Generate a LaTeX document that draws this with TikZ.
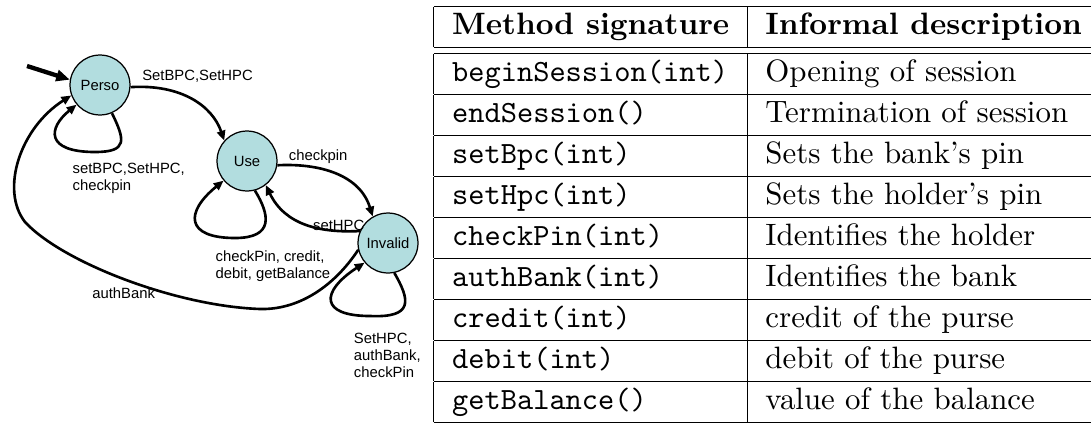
\documentclass[tikz,border=0pt]{standalone}
\usepackage{fontspec}
\newfontfamily\arialfont{Liberation Sans}
\usetikzlibrary{arrows.meta}
\definecolor{statefill}{RGB}{178,221,223}
\begin{document}
\begin{tikzpicture}[x=0.3236pt,y=-0.3236pt,
  state/.style={circle,draw=black,line width=0.4pt,fill=statefill,minimum size=19.4pt,inner sep=0pt,
    font=\arialfont\fontsize{4.8}{5.5}\selectfont},
  edge/.style={line width=0.85pt,-{Triangle[length=3.2pt,width=2.7pt]}},
  initedge/.style={line width=1.4pt,-{Triangle[length=4.4pt,width=3.6pt]}},
  lbl/.style={font=\arialfont\fontsize{4.8}{5.5}\selectfont,inner sep=0pt,align=left}]
\useasboundingbox (0,0) rectangle (1091,423);

% states
\node[state] (perso) at (100,85) {Perso};
\node[state] (use) at (247,161) {Use};
\node[state] (invalid) at (388,243) {Invalid};
\coordinate (start) at (27,66);

% transitions
\draw[initedge] (start) -- (perso.170);
\draw[edge] (perso.-4) .. controls (180,84) and (212,105) .. (use.138);
\draw[edge] (perso.-67) .. controls (125,140) and (128,152) .. (95,152)
            .. controls (45,152) and (48,128) .. (perso.-140);
\draw[edge] (use.-8) .. controls (320,163) and (360,175) .. (invalid.120);
\draw[edge] (invalid.157) .. controls (320,233) and (285,225) .. (use.-52);
\draw[edge] (use.-75) .. controls (270,215) and (274,238) .. (235,238)
            .. controls (185,238) and (185,212) .. (use.-140);
\draw[edge] (invalid.-167) .. controls (335,285) and (300,310) .. (260,309)
            .. controls (175,306) and (62,262) .. (25,222)
            .. controls (0,190) and (20,128) .. (perso.-160);
\draw[edge] (invalid.-78) .. controls (410,300) and (414,318) .. (370,316)
            .. controls (320,316) and (320,292) .. (invalid.-140);

% labels
\node[lbl,anchor=base west] (l1) at (141.7,80.5) {SetBPC,SetHPC};
\node[lbl,anchor=north west] (l2) at (72,162.2) {setBPC,SetHPC,\\checkpin};
\node[lbl,anchor=base west] (l3) at (288.3,160) {checkpin};
\node[lbl,anchor=base west] (l4) at (312.5,230) {setHPC};
\node[lbl,anchor=north west] (l5) at (215,250.2) {checkPin, credit,\\debit, getBalance};
\node[lbl,anchor=base west] (l6) at (91.7,298.3) {authBank};
\node[lbl,anchor=north west] (l7) at (353.3,332.2) {SetHPC,\\authBank,\\checkPin};

% table
\node[anchor=north west,inner sep=0pt] (tbl) at (433,5) {\renewcommand{\arraystretch}{1.072}%
\begin{tabular}{|l|@{\hspace{5.5pt}}l@{\hspace{3.2pt}}|}
\hline
\textbf{Method signature} & \textbf{Informal description}\\
\hline\hline
\texttt{beginSession(int)} & Opening of session\\ \hline
\texttt{endSession()} & Termination of session\\ \hline
\texttt{setBpc(int)} & Sets the bank's pin\\ \hline
\texttt{setHpc(int)} & Sets the holder's pin\\ \hline
\texttt{checkPin(int)} & Identifies the holder\\ \hline
\texttt{authBank(int)} & Identifies the bank\\ \hline
\texttt{credit(int)} & credit of the purse\\ \hline
\texttt{debit(int)} & debit of the purse\\ \hline
\texttt{getBalance()} & value of the balance\\ \hline
\end{tabular}};
\end{tikzpicture}
\end{document}
